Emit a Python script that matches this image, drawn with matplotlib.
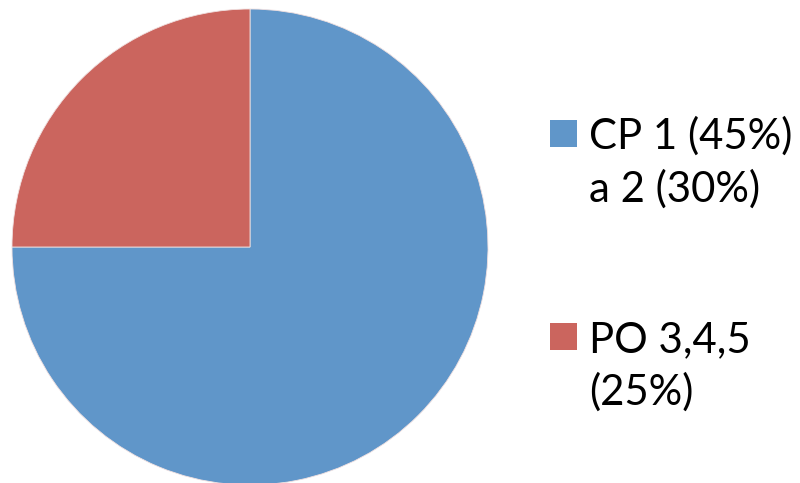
import matplotlib
matplotlib.use("Agg")
import matplotlib.pyplot as plt
from matplotlib.patches import Rectangle

labels = ["CP 1 (45%)\na 2 (30%)", "PO 3,4,5\n(25%)"]
values = [75, 25]
colors = ["#6096C9", "#CB655E"]

plt.rcParams['font.family'] = ['Lato', 'DejaVu Sans']

W, H = 800, 483
fig = plt.figure(figsize=(W / 100, H / 100), dpi=100)

# Pie
ax = fig.add_axes([12 / W, -2 / H, 476 / W, 476 / H])
ax.pie(values, colors=colors, startangle=90, counterclock=False,
       wedgeprops=dict(edgecolor="#F0E0E0", linewidth=0.6))
ax.set_xlim(-1, 1)
ax.set_ylim(-1, 1)
ax.set_aspect('equal')
ax.axis('off')

# Legend drawn in a pixel-coordinate overlay
lg = fig.add_axes([0, 0, 1, 1], facecolor='none')
lg.set_xlim(0, W)
lg.set_ylim(H, 0)
lg.axis('off')

sq_x, sq_size = 550, 27
text_x = 589
first_baseline = 149
entry_step = 203
line_step = 53
for i, (lab, col) in enumerate(zip(labels, colors)):
    base = first_baseline + i * entry_step
    lg.add_patch(Rectangle((sq_x, base - 29), sq_size, sq_size,
                           facecolor=col, edgecolor='none'))
    for j, line in enumerate(lab.split("\n")):
        lg.text(text_x, base + j * line_step, line, fontsize=30.2,
                color='black', ha='left', va='baseline')

fig.savefig("out.png", dpi=100)
